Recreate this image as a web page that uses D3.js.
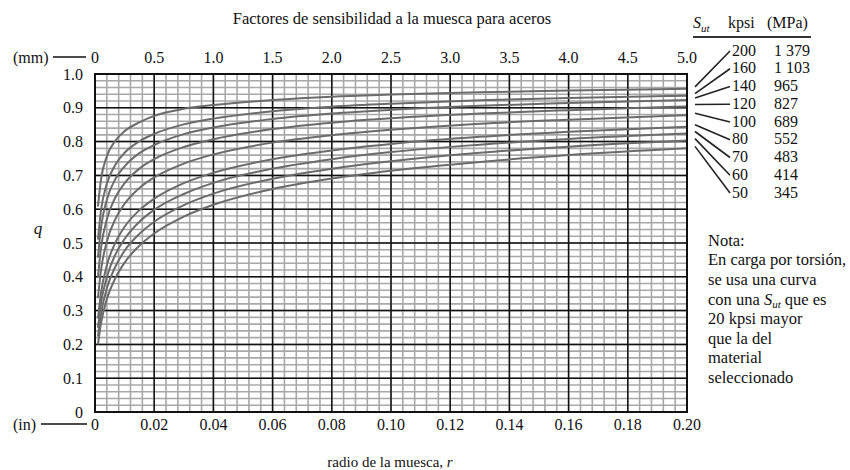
<!DOCTYPE html>
<html>
<head>
<meta charset="utf-8">
<script src="https://cdn.jsdelivr.net/npm/d3@7"></script>
<style>
  body { margin: 0; background: #fff; }
  text { font-family: "Liberation Serif", "Times New Roman", serif; fill: #111; }
</style>
</head>
<body>
<svg id="chart"></svg>
<script>
// notch radius (in) at which the curves were read
const radiusIn = [0.001, 0.002, 0.004, 0.007, 0.01, 0.015, 0.02, 0.03, 0.04, 0.06, 0.08, 0.10, 0.13, 0.16, 0.20];

// notch sensitivity q, one array per S_ut (kpsi)
const q200 = [0.608, 0.687, 0.756, 0.804, 0.831, 0.857, 0.876, 0.897, 0.908, 0.923, 0.933, 0.939, 0.946, 0.951, 0.956];
const q160 = [0.510, 0.595, 0.675, 0.733, 0.767, 0.801, 0.823, 0.851, 0.868, 0.890, 0.903, 0.912, 0.922, 0.929, 0.936];
const q140 = [0.457, 0.544, 0.628, 0.691, 0.727, 0.766, 0.790, 0.822, 0.842, 0.867, 0.883, 0.894, 0.906, 0.914, 0.923];
const q120 = [0.399, 0.484, 0.570, 0.637, 0.677, 0.720, 0.748, 0.784, 0.807, 0.837, 0.856, 0.869, 0.883, 0.893, 0.904];
const q100 = [0.337, 0.418, 0.504, 0.573, 0.616, 0.663, 0.694, 0.735, 0.762, 0.797, 0.819, 0.835, 0.853, 0.865, 0.878];
const q80  = [0.277, 0.351, 0.434, 0.503, 0.548, 0.597, 0.631, 0.677, 0.708, 0.748, 0.774, 0.793, 0.814, 0.829, 0.844];
const q70  = [0.249, 0.320, 0.399, 0.468, 0.512, 0.563, 0.598, 0.645, 0.678, 0.720, 0.748, 0.769, 0.791, 0.808, 0.824];
const q60  = [0.224, 0.289, 0.366, 0.432, 0.477, 0.527, 0.563, 0.612, 0.646, 0.690, 0.720, 0.742, 0.767, 0.785, 0.803];
const q50  = [0.200, 0.261, 0.334, 0.398, 0.442, 0.492, 0.528, 0.578, 0.613, 0.660, 0.691, 0.714, 0.740, 0.760, 0.780];

const sutKpsi = [200, 160, 140, 120, 100, 80, 70, 60, 50];
const sutMPa = ["1 379", "1 103", "965", "827", "689", "552", "483", "414", "345"];
const curveSeries = [q200, q160, q140, q120, q100, q80, q70, q60, q50];

// tick labels
const mmTicks = [0, 0.5, 1.0, 1.5, 2.0, 2.5, 3.0, 3.5, 4.0, 4.5, 5.0];
const inTicks = [0, 0.02, 0.04, 0.06, 0.08, 0.10, 0.12, 0.14, 0.16, 0.18, 0.20];
const qTicks = [0, 0.1, 0.2, 0.3, 0.4, 0.5, 0.6, 0.7, 0.8, 0.9, 1.0];

const width = 850, height = 470;
const margin = { left: 95, right: 163, top: 74, bottom: 58 };

const svg = d3.select('#chart')
    .attr('width', width)
    .attr('height', height);

const xScale = d3.scaleLinear().domain([0, 0.2]).range([margin.left, width - margin.right]);
const xMm = d3.scaleLinear().domain([0, 5]).range([margin.left, width - margin.right]);
const yScale = d3.scaleLinear().domain([0, 1]).range([height - margin.bottom, margin.top]);

const [x0, x1] = xScale.range();
const [y0, y1] = yScale.range();

// minor grid: 5 divisions per major cell
const minorX = d3.range(0, 0.2001, 0.004);
const minorY = d3.range(0, 1.0001, 0.02);

const grid = svg.append('g');
grid.selectAll('.minor-x')
    .data(minorX)
  .join('line')
    .attr('x1', d => xScale(d)).attr('x2', d => xScale(d))
    .attr('y1', y0).attr('y2', y1)
    .attr('stroke', '#a8a8a8')
    .attr('stroke-width', 1.6);
grid.selectAll('.minor-y')
    .data(minorY)
  .join('line')
    .attr('x1', x0).attr('x2', x1)
    .attr('y1', d => yScale(d)).attr('y2', d => yScale(d))
    .attr('stroke', '#a8a8a8')
    .attr('stroke-width', 1.6);

// major grid
grid.selectAll('.major-x')
    .data(inTicks)
  .join('line')
    .attr('x1', d => xScale(d)).attr('x2', d => xScale(d))
    .attr('y1', y0).attr('y2', y1)
    .attr('stroke', '#111')
    .attr('stroke-width', 1.5);
grid.selectAll('.major-y')
    .data(qTicks)
  .join('line')
    .attr('x1', x0).attr('x2', x1)
    .attr('y1', d => yScale(d)).attr('y2', d => yScale(d))
    .attr('stroke', '#111')
    .attr('stroke-width', 1.5);

// curves
const line = d3.line()
    .x((d, i) => xScale(radiusIn[i]))
    .y(d => yScale(d))
    .curve(d3.curveMonotoneX);

svg.append('g')
  .selectAll('path')
  .data(curveSeries)
  .join('path')
    .attr('d', line)
    .attr('fill', 'none')
    .attr('stroke', '#6b6b6b')
    .attr('stroke-width', 2);

// frame
svg.append('rect')
    .attr('x', x0).attr('y', y1)
    .attr('width', x1 - x0).attr('height', y0 - y1)
    .attr('fill', 'none')
    .attr('stroke', '#111')
    .attr('stroke-width', 2);

// top axis (mm)
const fmt1 = d3.format('.1f');
svg.append('g')
  .selectAll('text')
  .data(mmTicks)
  .join('text')
    .attr('x', d => xMm(d))
    .attr('y', 57)
    .attr('dy', '0.35em')
    .attr('text-anchor', 'middle')
    .style('font-size', '16px')
    .text(d => d === 0 ? '0' : fmt1(d));
svg.append('text').attr('x', 13).attr('y', 57).attr('dy', '0.35em')
    .style('font-size', '16px').text('(mm)');
svg.append('line').attr('x1', 53).attr('x2', 86).attr('y1', 57).attr('y2', 57)
    .attr('stroke', '#111').attr('stroke-width', 1.5);

// bottom axis (in)
const fmt2 = d3.format('.2f');
svg.append('g')
  .selectAll('text')
  .data(inTicks)
  .join('text')
    .attr('x', d => xScale(d))
    .attr('y', 424)
    .attr('dy', '0.35em')
    .attr('text-anchor', 'middle')
    .style('font-size', '16px')
    .text(d => d === 0 ? '0' : fmt2(d));
svg.append('text').attr('x', 13).attr('y', 424).attr('dy', '0.35em')
    .style('font-size', '16px').text('(in)');
svg.append('line').attr('x1', 41).attr('x2', 87).attr('y1', 424).attr('y2', 424)
    .attr('stroke', '#111').attr('stroke-width', 1.5);

// left axis (q)
svg.append('g')
  .selectAll('text')
  .data(qTicks)
  .join('text')
    .attr('x', 83)
    .attr('y', d => yScale(d))
    .attr('dy', '0.35em')
    .attr('text-anchor', 'end')
    .style('font-size', '16px')
    .text(d => d === 0 ? '0' : fmt1(d));
svg.append('text').attr('x', 38).attr('y', 228).attr('dy', '0.35em')
    .attr('text-anchor', 'middle')
    .style('font-size', '17px').style('font-style', 'italic').text('q');

// titles
svg.append('text').attr('x', 392).attr('y', 18).attr('dy', '0.35em')
    .attr('text-anchor', 'middle').style('font-size', '16.5px')
    .text('Factores de sensibilidad a la muesca para aceros');

const xTitle = svg.append('text').attr('x', 390).attr('y', 462).attr('dy', '0.35em')
    .attr('text-anchor', 'middle').style('font-size', '15px');
xTitle.append('tspan').text('radio de la muesca,  ');
xTitle.append('tspan').style('font-style', 'italic').text('r');

// legend header
const head = svg.append('text').attr('x', 693).attr('y', 22).attr('dy', '0.35em')
    .style('font-size', '16px');
head.append('tspan').style('font-style', 'italic').text('S');
head.append('tspan').style('font-style', 'italic').style('font-size', '11px')
    .attr('dy', 4).text('ut');
svg.append('text').attr('x', 728).attr('y', 22).attr('dy', '0.35em')
    .style('font-size', '16px').text('kpsi');
svg.append('text').attr('x', 767).attr('y', 22).attr('dy', '0.35em')
    .style('font-size', '16px').text('(MPa)');
svg.append('line').attr('x1', 693).attr('x2', 811).attr('y1', 37).attr('y2', 37)
    .attr('stroke', '#333').attr('stroke-width', 2);

// legend rows + leader lines to curve ends
const rowY = i => 50 + i * 17.75;
const legend = svg.append('g');
legend.selectAll('.kpsi')
  .data(sutKpsi)
  .join('text')
    .attr('x', 732).attr('y', (d, i) => rowY(i)).attr('dy', '0.35em')
    .style('font-size', '16px')
    .text(d => d);
legend.selectAll('.mpa')
  .data(sutMPa)
  .join('text')
    .attr('x', 774).attr('y', (d, i) => rowY(i)).attr('dy', '0.35em')
    .style('font-size', '16px')
    .text(d => d);
legend.selectAll('line')
  .data(curveSeries)
  .join('line')
    .attr('x1', x1 + 8)
    .attr('y1', d => yScale(d[d.length - 1]) - 2)
    .attr('x2', 730)
    .attr('y2', (d, i) => rowY(i) + 1)
    .attr('stroke', '#222')
    .attr('stroke-width', 1.6);

// note
const noteLines = ['Nota:', 'En carga por torsión,', 'se usa una curva', null,
  '20 kpsi mayor', 'que la del', 'material', 'seleccionado'];
const note = svg.append('g');
noteLines.forEach((t, i) => {
  const tx = note.append('text').attr('x', 708).attr('y', 240 + i * 19.6)
      .attr('dy', '0.35em').style('font-size', '16.5px');
  if (t) { tx.text(t); return; }
  tx.append('tspan').text('con una ');
  tx.append('tspan').style('font-style', 'italic').text('S');
  tx.append('tspan').style('font-style', 'italic').style('font-size', '11px')
      .attr('dy', 3).text('ut');
  tx.append('tspan').attr('dy', -3).text(' que es');
});
</script>
</body>
</html>
